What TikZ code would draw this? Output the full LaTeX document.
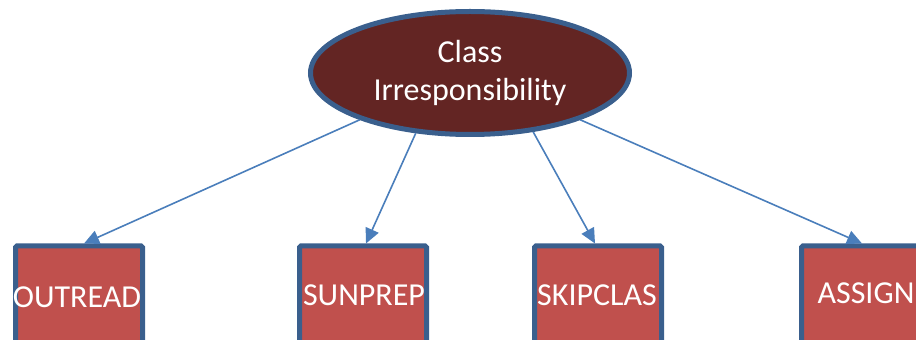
\documentclass[tikz,border=0pt]{standalone}
\usepackage{fontspec}
\setmainfont{Carlito}
\usetikzlibrary{shapes.geometric,arrows.meta}
\definecolor{rimblue}{HTML}{3A5F8D}
\definecolor{rootfill}{HTML}{632523}
\definecolor{leaffill}{HTML}{C0504D}
\definecolor{linkblue}{HTML}{4A7EBB}
\tikzset{
  root/.style={ellipse, draw=rimblue, line width=5pt, fill=rootfill,
    minimum width=319pt, minimum height=123pt, inner sep=0pt,
    text=white, align=center, font=\fontsize{32}{38}\selectfont},
  leaf/.style={rectangle, draw=rimblue, line width=5pt, fill=leaffill,
    rounded corners=1.5pt, minimum width=127pt, minimum height=108pt,
    inner sep=0pt},
  label/.style={text=white, inner sep=0pt, font=\fontsize{32}{38}\selectfont},
  link/.style={draw=linkblue, line width=1.6pt,
    -{Triangle[length=15pt,width=14pt]}}
}
\begin{document}
\begin{tikzpicture}[x=1pt,y=1pt]
  \useasboundingbox (0,0) rectangle (916,340);
  \begin{scope}
    \clip (0,0) rectangle (916,340);
    \node[root] (top) at (470,267) {Class\\Irresponsibility};
    \node[leaf] (outread)  at (79,40)  {};
    \node[leaf] (sunprep)  at (363,40) {};
    \node[leaf] (skipclas) at (598,40) {};
    \node[leaf] (assign)   at (865,40) {};
    \node[label] at (77,43) {OUTREAD};
    \node[label] at (364,45) {SUNPREP};
    \node[label] at (597,45) {SKIPCLAS};
    \node[label] at (866,47) {ASSIGN};
    \draw[link] (top.203) -- ([xshift=5pt]outread.north);
    \draw[link] (top.228) -- ([xshift=3pt]sunprep.north);
    \draw[link] (top.317) -- ([xshift=-3pt]skipclas.north);
    \draw[link] (top.337) -- ([xshift=-3pt]assign.north);
  \end{scope}
\end{tikzpicture}
\end{document}
